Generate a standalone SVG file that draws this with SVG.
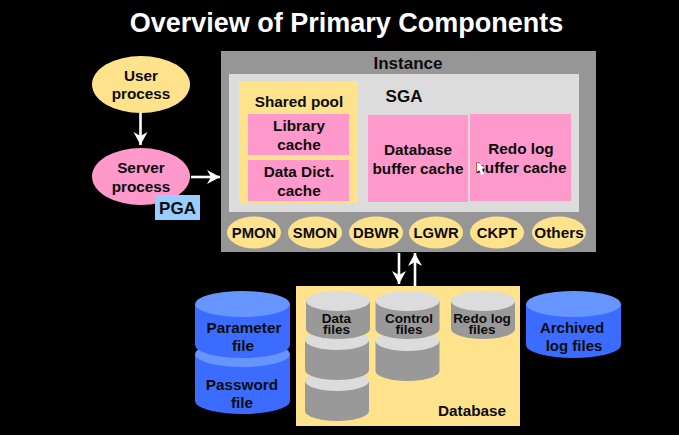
<svg xmlns="http://www.w3.org/2000/svg" width="679" height="435" viewBox="0 0 679 435">
<style>
text{font-family:"Liberation Sans",Arial,sans-serif;font-weight:700;fill:#0c0c0c;text-anchor:middle}
.t{font-size:17px}
.s{font-size:15.300px}
.p{font-size:14.800px}
.c{font-size:13.500px}
.pink{fill:#ff99cc}
.yel{fill:#ffe38c}
.bs{fill:#3b6cff}
.bt{fill:#6695ff}
.gs{fill:#999999}
.gt{fill:#dcdcdc}
.ln{stroke:#fff;stroke-width:2.6;fill:none}
</style>
<defs>
<marker id="a" markerUnits="userSpaceOnUse" markerWidth="14" markerHeight="16" refX="13" refY="7" orient="auto"><path d="M0 0L13 7L0 14L4 7Z" fill="#fff"/></marker>
<path id="big" d="M-47.500 0V41A47.500 13 0 0 0 47.500 41V0Z"/>
<ellipse id="bigt" cx="0" cy="0" rx="47.500" ry="13"/>
<path id="sm" d="M-32 0V28A32 10 0 0 0 32 28V0Z"/>
<path id="sm2" d="M-32 0V30A32 10 0 0 0 32 30V0Z"/>
<ellipse id="smt" cx="0" cy="0" rx="32" ry="10"/>
</defs>
<rect width="679" height="435" fill="#000"/>
<text x="346.500" y="32" style="font-size:27px;fill:#fff">Overview of Primary Components</text>

<g id="instance"><rect x="221" y="51" width="375" height="201" fill="#969696"/><text x="408" y="69" class="t">Instance</text></g>
<g id="sga"><rect x="229" y="74" width="350" height="138" fill="#dcdcdc"/><text x="404" y="102" style="font-size:17px">SGA</text></g>
<g id="shared-pool"><rect x="239" y="81" width="119" height="122" class="yel"/><text x="299" y="107" class="s">Shared pool</text></g>
<g id="library-cache"><rect x="248" y="114" width="101" height="41" class="pink"/><text x="299" y="131" class="s">Library</text><text x="299" y="150" class="s">cache</text></g>
<g id="data-dict-cache"><rect x="248" y="160" width="101" height="41" class="pink"/><text x="299" y="177" class="s">Data Dict.</text><text x="299" y="196" class="s">cache</text></g>
<g id="db-buffer-cache"><rect x="368" y="115" width="100" height="87" class="pink"/><text x="418" y="155" class="s">Database</text><text x="418" y="174" class="s">buffer cache</text></g>
<g id="redo-buffer-cache"><rect x="470" y="114" width="101" height="87" class="pink"/><text x="521" y="154" class="s">Redo log</text><text x="521" y="173" class="s">buffer cache</text><path d="M477 162L477 172L479.500 170L481 175L484 174L482 169L485 168Z" fill="#fff"/></g>

<g id="pmon"><ellipse cx="254" cy="232.500" rx="27" ry="16" class="yel"/><text x="254" y="238" class="p">PMON</text></g>
<g id="smon"><ellipse cx="315" cy="232.500" rx="27" ry="16" class="yel"/><text x="315" y="238" class="p">SMON</text></g>
<g id="dbwr"><ellipse cx="376" cy="232.500" rx="27" ry="16" class="yel"/><text x="376" y="238" class="p">DBWR</text></g>
<g id="lgwr"><ellipse cx="436" cy="232.500" rx="27" ry="16" class="yel"/><text x="436" y="238" class="p">LGWR</text></g>
<g id="ckpt"><ellipse cx="497" cy="232.500" rx="27" ry="16" class="yel"/><text x="497" y="238" class="p">CKPT</text></g>
<g id="others"><ellipse cx="559" cy="232.500" rx="27" ry="16" class="yel"/><text x="559" y="238" class="s">Others</text></g>

<g id="user-process"><ellipse cx="141" cy="84.500" rx="49" ry="28.500" class="yel"/><text x="141" y="81" class="s">User</text><text x="141" y="99" class="s">process</text></g>
<g id="server-process"><ellipse cx="141" cy="176.500" rx="49" ry="28.500" class="pink"/><text x="141" y="173" class="s">Server</text><text x="141" y="192" class="s">process</text></g>
<g id="pga"><rect x="155" y="195" width="45" height="25" fill="#99ccff"/><text x="177.500" y="214" style="font-size:17px">PGA</text></g>

<g id="database"><rect x="296" y="286" width="224" height="140" class="yel"/><text x="472" y="416" class="s">Database</text></g>

<g id="password-file"><g transform="translate(242.500 354)"><path d="M-47.500 0V47A47.500 13 0 0 0 47.500 47V0Z" class="bs"/><ellipse rx="47.500" ry="13" class="bt"/></g><text x="242" y="390" class="s">Password</text><text x="242" y="408" class="s">file</text></g>
<g id="parameter-file"><g transform="translate(242.500 304)"><use href="#big" class="bs"/><use href="#bigt" class="bt"/></g><text x="244" y="333" class="s">Parameter</text><text x="243" y="351" class="s">file</text></g>

<g id="data-files">
<g transform="translate(337 381)"><use href="#sm2" class="gs"/><use href="#smt" class="gt"/></g>
<g transform="translate(337 340)"><use href="#sm2" class="gs"/><use href="#smt" class="gt"/></g>
<g transform="translate(338 301)"><use href="#sm" class="gs"/><use href="#smt" class="gt"/></g>
<text x="336.500" y="323" class="c">Data</text><text x="336.500" y="334" class="c">files</text></g>

<g id="control-files">
<g transform="translate(407.500 341)"><use href="#sm2" class="gs"/><use href="#smt" class="gt"/></g>
<g transform="translate(407.500 301)"><use href="#sm" class="gs"/><use href="#smt" class="gt"/></g>
<text x="409" y="323" class="c">Control</text><text x="409" y="334" class="c">files</text></g>

<g id="redo-log-files"><g transform="translate(483 301)"><use href="#sm" class="gs"/><use href="#smt" class="gt"/></g><text x="482" y="323" class="c">Redo log</text><text x="482" y="334" class="c">files</text></g>

<g id="archived-log-files"><g transform="translate(573.500 304)"><use href="#big" class="bs"/><use href="#bigt" class="bt"/></g><text x="572" y="333" style="font-size:15px">Archived</text><text x="574" y="351" style="font-size:15px">log files</text></g>

<g id="connectors">
<path d="M140.500 113V145" class="ln" marker-end="url(#a)"/>
<path d="M191 177H220" class="ln" marker-end="url(#a)"/>
<path d="M399 253V284" class="ln" marker-end="url(#a)"/>
<path d="M415 286V253" class="ln" marker-end="url(#a)"/>
</g>
</svg>
